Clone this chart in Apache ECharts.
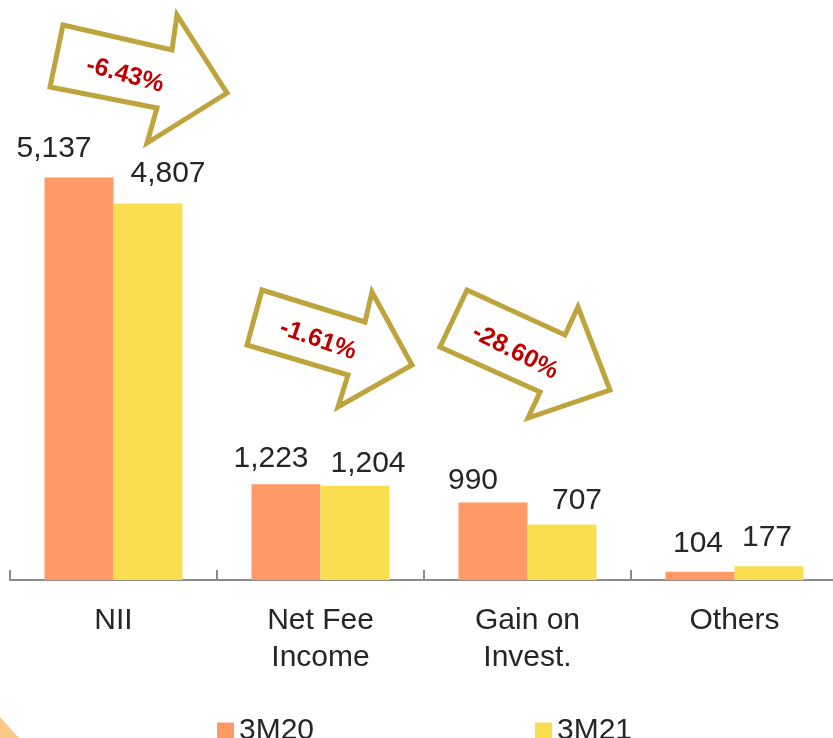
<!DOCTYPE html>
<html>
<head>
<meta charset="utf-8">
<script src="https://cdn.jsdelivr.net/npm/echarts@6/dist/echarts.min.js"></script>
<style>
  html, body { margin: 0; padding: 0; background: #fff; }
  #chart { width: 833px; height: 738px; }
</style>
</head>
<body>
<div id="chart"></div>
<script>
var categories = ['NII', 'Net Fee\nIncome', 'Gain on\nInvest.', 'Others'];
var seriesNames = ['3M20', '3M21'];
var values3M20 = [5137, 1223, 990, 104];
var values3M21 = [4807, 1204, 707, 177];
var changeLabels = ['-6.43%', '-1.61%', '-28.60%'];

// 标签微调（位置）
var shift3M20 = [[-25, -9], [-15, -5], [-20, -2], [-2, -8]];
var shift3M21 = [[20, -10], [13, -2], [15, -4], [-2, -8]];

function withShift(vals, shifts) {
    return vals.map(function (v, i) {
        return { value: v, label: { offset: shifts[i] } };
    });
}

// 箭头外框
var arrowPts = [
    [[63, 25], [172, 50], [177, 15], [227, 93], [147, 143], [157, 108], [50, 87]],
    [[262, 290], [365, 322], [372, 292], [412, 365], [338, 407], [348, 375], [247, 345]],
    [[467, 290], [565, 335], [578, 307], [610, 390], [528, 418], [540, 392], [440, 347]]
];
var textPos = [[125, 75], [318, 340], [515, 352]];
var textRot = [15, 19, 27];

var graphics = [{
    type: 'polygon',
    shape: { points: [[0, 717], [19, 738], [0, 738]] },
    style: { fill: '#f9c98a' }
}];
arrowPts.forEach(function (pts, i) {
    graphics.push({
        type: 'polygon',
        shape: { points: pts },
        style: { fill: '#fff', stroke: '#bda43c', lineWidth: 5, lineJoin: 'miter' }
    });
    graphics.push({
        type: 'text',
        x: textPos[i][0],
        y: textPos[i][1],
        rotation: -textRot[i] * Math.PI / 180,
        style: {
            text: changeLabels[i],
            fill: '#c00000',
            font: 'bold 25px "Liberation Sans", Arial, sans-serif',
            align: 'center',
            verticalAlign: 'middle'
        }
    });
});

var chart = echarts.init(document.getElementById('chart'));
var option = {
    backgroundColor: '#fff',
    animation: false,
    textStyle: { fontFamily: '"Liberation Sans", Arial, sans-serif' },
    color: ['#ff9966', '#f9df50'],
    grid: {
        left: 10,
        width: 828,
        top: 110,
        bottom: 158,
        containLabel: false,
        outerBoundsMode: 'none'
    },
    legend: [{
        data: [seriesNames[0]],
        left: 212,
        top: 711,
        icon: 'rect',
        itemWidth: 17,
        itemHeight: 17,
        textStyle: { fontSize: 30, color: '#262626' }
    }, {
        data: [seriesNames[1]],
        left: 530,
        top: 711,
        icon: 'rect',
        itemWidth: 17,
        itemHeight: 17,
        textStyle: { fontSize: 30, color: '#262626' }
    }],
    xAxis: {
        type: 'category',
        data: categories,
        axisLine: { lineStyle: { color: '#8c8c8c', width: 2 } },
        axisTick: { show: true, inside: true, length: 10, lineStyle: { color: '#8c8c8c', width: 2 } },
        axisLabel: {
            fontSize: 30,
            color: '#262626',
            lineHeight: 37,
            margin: 22,
            interval: 0
        }
    },
    yAxis: {
        type: 'value',
        min: 0,
        max: 6000,
        show: false,
        splitLine: { show: false }
    },
    series: [{
        name: seriesNames[0],
        type: 'bar',
        barWidth: 69,
        barGap: '0%',
        label: {
            show: true,
            position: 'top',
            distance: 5,
            fontSize: 30,
            color: '#262626',
            formatter: function (p) { return p.value.toLocaleString('en-US'); }
        },
        data: withShift(values3M20, shift3M20)
    }, {
        name: seriesNames[1],
        type: 'bar',
        barWidth: 69,
        barGap: '0%',
        label: {
            show: true,
            position: 'top',
            distance: 5,
            fontSize: 30,
            color: '#262626',
            formatter: function (p) { return p.value.toLocaleString('en-US'); }
        },
        data: withShift(values3M21, shift3M21)
    }],
    graphic: graphics
};
chart.setOption(option);
</script>
</body>
</html>
